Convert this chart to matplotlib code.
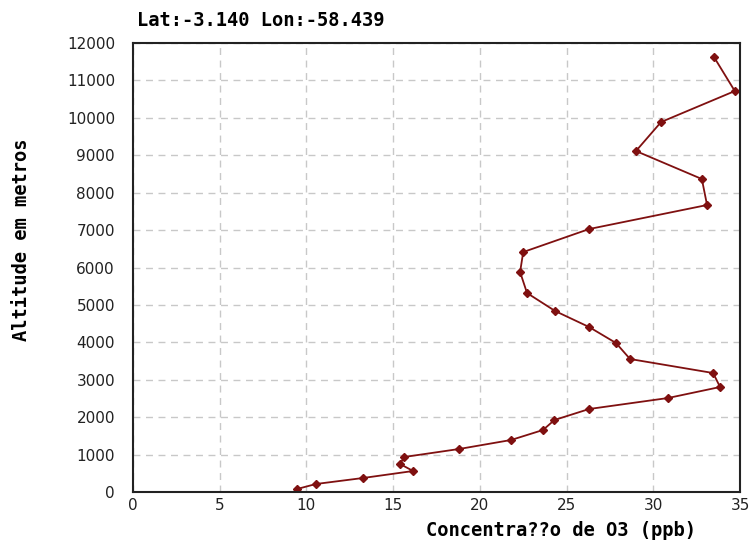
import matplotlib
matplotlib.use("Agg")
import matplotlib.pyplot as plt

ozone = [9.46, 10.55, 13.26, 16.15, 15.4, 15.63, 18.8, 21.8, 23.64, 24.3, 26.3, 30.85,
         33.85, 33.45, 28.66, 27.85, 26.3, 24.34, 22.72, 22.32, 22.5, 26.3, 33.1, 32.8,
         29.0, 30.45, 34.7, 33.5]
altitude = [80, 214, 374, 561, 748, 935, 1149, 1390, 1657, 1924, 2218, 2512,
            2806, 3180, 3554, 3982, 4409, 4837, 5318, 5879, 6413, 7028, 7670, 8365,
            9113, 9888, 10716, 11625]
x_ticks = [0, 5, 10, 15, 20, 25, 30, 35]
y_ticks = list(range(0, 12001, 1000))

fig = plt.figure(figsize=(7.49, 5.41), dpi=100)
ax = fig.add_axes([133/749, 49/541, (740-133)/749, (492-43)/541])

ax.plot(ozone, altitude, color="#7f1010", linewidth=1.3, marker="D",
        markersize=4.5, markerfacecolor="#7f1010", markeredgecolor="#7f1010")

ax.set_xlim(0, 35)
ax.set_ylim(0, 12000)
ax.set_xticks(x_ticks)
ax.set_yticks(y_ticks)
ax.grid(True, color="#c8c8c8", linestyle=(0, (5, 4)), linewidth=1.0)
ax.set_axisbelow(True)
ax.tick_params(length=0, labelsize=11, colors="#222222")
ax.tick_params(axis="x", pad=4)
ax.tick_params(axis="y", pad=13)
for lab in ax.get_xticklabels() + ax.get_yticklabels():
    lab.set_family("DejaVu Sans")
for sp in ax.spines.values():
    sp.set_color("#222222")
    sp.set_linewidth(1.5)

ax.set_xlabel("Concentra??o de O3 (ppb)", family="DejaVu Sans Mono",
              fontweight="bold", fontsize=13.5)
ax.xaxis.label.set_horizontalalignment("right")
ax.xaxis.label.set_verticalalignment("center")
ax.xaxis.set_label_coords((696-133)/607, -(530-492)/449)
ax.set_ylabel("Altitude em metros", family="DejaVu Sans Mono",
              fontweight="bold", fontsize=13.5)
ax.yaxis.set_label_coords(-(133-31)/607, (492-240)/449)

fig.text(137/749, 1-20/541, "Lat:-3.140 Lon:-58.439", family="DejaVu Sans Mono",
         fontweight="bold", fontsize=13.5, va="center", ha="left")

fig.savefig("out.png", dpi=100)
